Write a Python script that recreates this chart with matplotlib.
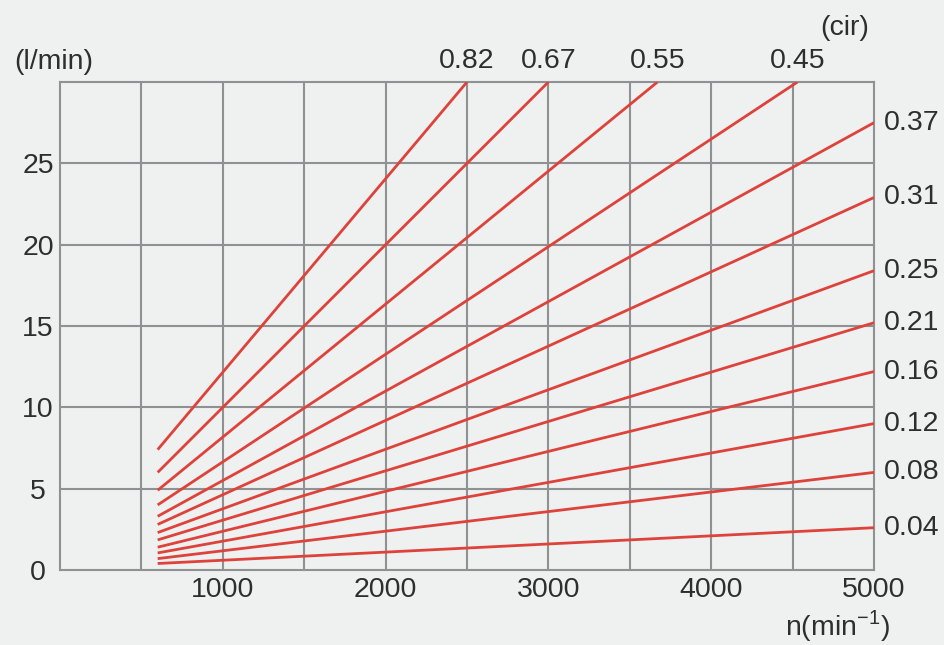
import matplotlib
matplotlib.use("Agg")
import matplotlib.pyplot as plt

# data
displacements = ["0.82", "0.67", "0.55", "0.45", "0.37", "0.31", "0.25", "0.21", "0.16", "0.12", "0.08", "0.04"]
n_start = [600, 600, 600, 600, 600, 600, 600, 600, 600, 600, 600, 600]
q_start = [7.4, 6.0, 4.9, 4.0, 3.3, 2.8, 2.3, 1.85, 1.4, 1.05, 0.7, 0.4]
n_end = [2500, 3000, 3670, 4530, 5000, 5000, 5000, 5000, 5000, 5000, 5000, 5000]
q_end = [30, 30, 30, 30, 27.5, 22.9, 18.4, 15.2, 12.2, 9.0, 6.0, 2.6]
x_ticks = [1000, 2000, 3000, 4000, 5000]
y_ticks = [0, 5, 10, 15, 20, 25]

BG = "#eff0f0"
TXT = "#2e2e2e"
RED = "#de433b"
GRID = "#8f9192"
FS = 20.5
plt.rcParams['font.family'] = ['Liberation Sans', 'DejaVu Sans']

W, H = 945, 645
fig = plt.figure(figsize=(W / 100, H / 100), dpi=100, facecolor=BG)
L, R, T, B = 60, 874, 82, 570
ax = fig.add_axes([L / W, 1 - B / H, (R - L) / W, (B - T) / H], facecolor=BG)
ax.set_xlim(0, 5000)
ax.set_ylim(0, 30)

for x in range(500, 5000, 500):
    ax.axvline(x, color=GRID, lw=1.5, zorder=1)
for y in range(5, 30, 5):
    ax.axhline(y, color=GRID, lw=1.5, zorder=1)
for s in ax.spines.values():
    s.set_color(GRID)
    s.set_linewidth(1.5)

for lab, x0, y0, x1, y1 in zip(displacements, n_start, q_start, n_end, q_end):
    ax.plot([x0, x1], [y0, y1], color=RED, lw=2.0, zorder=3, solid_capstyle='butt')
    if y1 >= 30:
        ax.annotate(lab, xy=(x1, 30), xytext=(0, 6), textcoords='offset points',
                    ha='center', va='bottom', fontsize=FS, color=TXT, annotation_clip=False)
    else:
        ax.annotate(lab, xy=(x1, y1), xytext=(7, 0), textcoords='offset points',
                    ha='left', va='center', fontsize=FS, color=TXT, annotation_clip=False)

ax.set_xticks(x_ticks)
ax.set_xticklabels([str(v) for v in x_ticks])
ax.set_yticks(y_ticks)
ax.set_yticklabels([str(v) for v in y_ticks])
ax.tick_params(axis='both', length=0, labelsize=FS, labelcolor=TXT)
ax.tick_params(axis='x', pad=5)
ax.tick_params(axis='y', pad=0)
for lbl in ax.get_yticklabels():
    lbl.set_horizontalalignment('center')
    lbl.set_x(-0.027)

fig.text(14 / W, 1 - 62 / H, "(l/min)", fontsize=FS, color=TXT, ha='left', va='center')
fig.text(845 / W, 1 - 28 / H, "(cir)", fontsize=FS, color=TXT, ha='center', va='center')
fig.text(837 / W, 1 - 626 / H, "n(min$^{\\mathregular{-1}}$)", fontsize=FS, color=TXT, ha='center', va='center')

fig.savefig("out.png", dpi=100, facecolor=BG)
